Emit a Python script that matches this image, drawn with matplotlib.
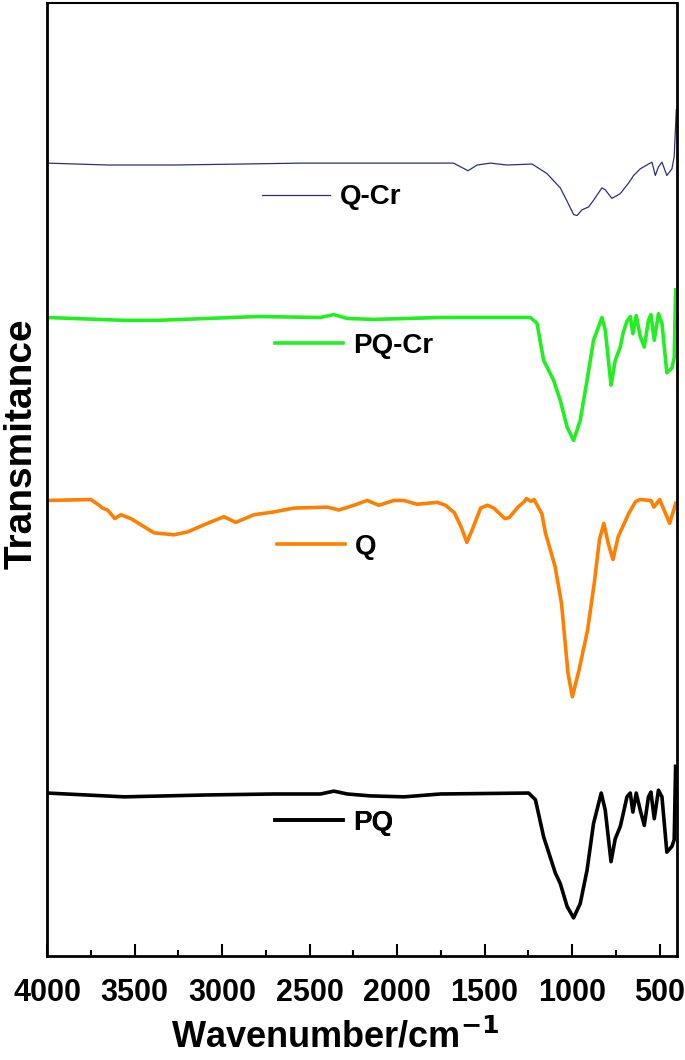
import numpy as np
import matplotlib
matplotlib.use("Agg")
import matplotlib.pyplot as plt
from matplotlib.ticker import MultipleLocator

plt.rcParams['font.family'] = ['Liberation Sans', 'DejaVu Sans']
plt.rcParams['font.weight'] = 'bold'

# FTIR spectra (wavenumber in cm-1, transmittance in a.u., already offset)
wn_qcr = [4000, 3652, 3276, 2893, 2551, 1677, 1594, 1542, 1466, 1371, 1228, 1143, 1067, 1028,
          991, 971, 943, 905, 877, 829, 810, 772, 724, 677, 648, 610, 563, 543, 524, 506,
          486, 458, 429, 416, 404]
t_qcr = [83.2, 83.0, 83.0, 83.1, 83.2, 83.2, 82.4, 83.0, 83.2, 83.0, 83.1, 82.1, 80.6, 79.2,
         77.8, 77.7, 78.3, 78.6, 79.3, 80.6, 80.4, 79.5, 80.0, 81.1, 81.9, 82.6, 83.1, 83.3,
         81.9, 82.8, 83.3, 81.9, 82.6, 83.9, 88.8]

wn_pqcr = [4000, 3559, 3367, 3082, 2796, 2437, 2361, 2284, 2134, 1752, 1238, 1200, 1162, 1105,
           1067, 1028, 991, 953, 914, 877, 829, 810, 777, 753, 724, 709, 686, 667, 652, 633,
           610, 587, 563, 549, 530, 506, 486, 458, 429, 416, 408]
t_pqcr = [67.0, 66.7, 66.7, 66.9, 67.1, 67.0, 67.3, 66.9, 66.8, 67.0, 67.0, 66.4, 62.5, 60.4,
          58.3, 55.5, 54.1, 56.2, 60.4, 64.6, 67.0, 65.7, 59.9, 62.5, 63.9, 65.3, 66.6, 67.1,
          65.3, 67.2, 65.0, 63.9, 66.7, 67.3, 64.6, 67.4, 66.4, 61.2, 61.7, 62.8, 69.9]

wn_q = [4000, 3749, 3702, 3683, 3654, 3612, 3578, 3521, 3388, 3274, 3197, 3083, 2989, 2922,
        2817, 2703, 2589, 2398, 2332, 2246, 2170, 2104, 2018, 1961, 1885, 1770, 1723, 1672,
        1633, 1601, 1571, 1522, 1484, 1447, 1384, 1359, 1309, 1272, 1260, 1234, 1217, 1172,
        1152, 1097, 1060, 1023, 998, 960, 911, 873, 843, 818, 793, 766, 736, 674, 636, 612,
        549, 532, 499, 474, 442, 407]
t_q = [47.8, 47.9, 47.3, 47.0, 46.8, 45.9, 46.3, 45.9, 44.4, 44.2, 44.5, 45.4, 46.1, 45.5,
       46.3, 46.6, 47.0, 47.1, 46.8, 47.3, 47.8, 47.3, 47.8, 47.8, 47.4, 47.6, 47.3, 46.5,
       45.0, 43.4, 44.7, 47.0, 47.3, 47.0, 45.9, 46.0, 47.1, 47.7, 48.0, 47.7, 47.9, 46.4,
       44.4, 40.9, 37.0, 29.7, 27.2, 30.0, 34.2, 39.1, 43.7, 45.4, 43.3, 41.6, 44.0, 46.5,
       47.7, 47.9, 47.8, 47.1, 47.9, 46.8, 45.4, 47.5]

wn_pq = [4000, 3559, 3083, 2703, 2437, 2361, 2284, 2151, 1961, 1752, 1248, 1209, 1162, 1095,
         1067, 1028, 991, 953, 914, 877, 833, 810, 777, 753, 724, 709, 686, 667, 652, 633,
         610, 587, 563, 549, 530, 506, 486, 458, 429, 416, 408]
t_pq = [17.1, 16.7, 16.9, 17.0, 17.0, 17.3, 17.0, 16.8, 16.7, 17.0, 17.1, 16.4, 12.5, 8.7,
        7.6, 5.2, 4.0, 5.5, 9.0, 13.9, 17.1, 15.3, 9.9, 12.3, 13.6, 14.8, 16.7, 17.1, 15.1,
        17.1, 15.3, 13.7, 16.7, 17.2, 14.4, 17.4, 16.7, 10.9, 11.5, 12.2, 19.9]

names = ['Q-Cr', 'PQ-Cr', 'Q', 'PQ']
colors = ['#2d2f7c', '#22ee22', '#ff8000', '#000000']
widths = [0.9, 2.6, 2.6, 2.6]
# where each series' label sits (axes fraction)
label_pos = [(0.341, 0.796), (0.362, 0.640), (0.365, 0.4295), (0.362, 0.140)]

fig = plt.figure(figsize=(6.85, 10.6), dpi=100)
ax = fig.add_axes([47 / 685, 104 / 1060, 630 / 685, 953 / 1060])

series = [(wn_qcr, t_qcr), (wn_pqcr, t_pqcr), (wn_q, t_q), (wn_pq, t_pq)]
for (x, y), name, c, lw, pos in zip(series, names, colors, widths, label_pos):
    line, = ax.plot(x, y, color=c, linewidth=lw)
    leg = ax.legend([line], [name], loc='center left', bbox_to_anchor=pos,
                    frameon=False, fontsize=20, handlelength=2.45, handletextpad=0.35,
                    borderpad=0, borderaxespad=0)
    ax.add_artist(leg)

ax.set_xlim(4000, 400)
ax.set_ylim(0, 100)
ax.xaxis.set_major_locator(MultipleLocator(500))
ax.xaxis.set_minor_locator(MultipleLocator(250))
ax.tick_params(axis='x', which='major', direction='in', length=9, width=1.5,
               labelsize=22, pad=16)
ax.tick_params(axis='x', which='minor', direction='in', length=4.5, width=1.5)
ax.set_yticks([])
for s in ['left', 'bottom', 'right']:
    ax.spines[s].set_linewidth(2)
ax.spines['top'].set_linewidth(1.5)

ax.set_xlabel('Wavenumber/cm$^{\\mathbf{-1}}$', fontsize=26, fontweight='bold')
ax.xaxis.set_label_coords(0.457, -0.066)
ax.xaxis.label.set_va('top')
ax.set_ylabel('Transmitance', fontsize=28, fontweight='bold')
ax.yaxis.set_label_coords(-0.041, 0.538)
ax.yaxis.label.set_va('center')

fig.savefig('out.png', dpi=100)
